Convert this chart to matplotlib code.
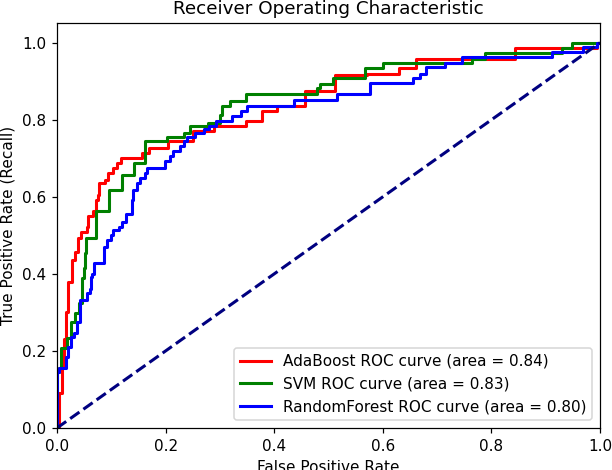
import matplotlib
matplotlib.use("Agg")
import matplotlib.pyplot as plt

# AdaBoost ROC (fpr where level starts, tpr level)
ada_fpr = [0.0, 0.003, 0.010, 0.013, 0.017, 0.021, 0.028, 0.033, 0.038, 0.045,
           0.055, 0.057, 0.067, 0.071, 0.076, 0.078, 0.088, 0.094, 0.103, 0.110,
           0.117, 0.157, 0.169, 0.205, 0.250, 0.290, 0.349, 0.377, 0.405, 0.457,
           0.512, 0.570, 0.629, 0.662, 0.843, 0.994, 1.0]
ada_tpr = [0.0, 0.090, 0.160, 0.230, 0.300, 0.380, 0.436, 0.458, 0.493, 0.510,
           0.523, 0.549, 0.562, 0.592, 0.605, 0.636, 0.644, 0.662, 0.675, 0.688,
           0.700, 0.715, 0.726, 0.744, 0.770, 0.784, 0.796, 0.822, 0.835, 0.875,
           0.917, 0.920, 0.934, 0.958, 0.986, 1.0, 1.0]

# SVM ROC
svm_fpr = [0.0, 0.0, 0.003, 0.008, 0.018, 0.025, 0.034, 0.040, 0.046, 0.049,
           0.052, 0.054, 0.071, 0.095, 0.120, 0.141, 0.162, 0.202, 0.233, 0.245,
           0.279, 0.300, 0.303, 0.319, 0.349, 0.478, 0.484, 0.509, 0.567, 0.601,
           0.764, 0.788, 0.930, 0.948, 1.0]
svm_tpr = [0.0, 0.146, 0.155, 0.207, 0.233, 0.276, 0.298, 0.324, 0.390, 0.415,
           0.454, 0.493, 0.562, 0.618, 0.657, 0.687, 0.744, 0.755, 0.767, 0.783,
           0.793, 0.813, 0.836, 0.850, 0.867, 0.882, 0.893, 0.908, 0.934, 0.947,
           0.958, 0.973, 0.986, 1.0, 1.0]

# RandomForest ROC
rf_fpr = [0.0, 0.0, 0.004, 0.016, 0.020, 0.025, 0.032, 0.036, 0.043, 0.055,
          0.060, 0.063, 0.065, 0.069, 0.086, 0.092, 0.099, 0.103, 0.114, 0.120,
          0.127, 0.138, 0.140, 0.147, 0.152, 0.162, 0.166, 0.199, 0.208, 0.214,
          0.226, 0.234, 0.239, 0.255, 0.271, 0.280, 0.292, 0.323, 0.338, 0.350,
          0.436, 0.515, 0.576, 0.656, 0.668, 0.680, 0.715, 0.745, 0.911, 0.969,
          0.994, 1.0]
rf_tpr = [0.0, 0.146, 0.155, 0.185, 0.210, 0.237, 0.246, 0.276, 0.332, 0.350,
          0.360, 0.393, 0.400, 0.428, 0.471, 0.488, 0.501, 0.514, 0.523, 0.536,
          0.555, 0.592, 0.618, 0.636, 0.649, 0.662, 0.675, 0.692, 0.705, 0.718,
          0.731, 0.744, 0.755, 0.765, 0.776, 0.785, 0.796, 0.809, 0.822, 0.837,
          0.852, 0.867, 0.895, 0.908, 0.919, 0.936, 0.947, 0.962, 0.977, 0.990,
          1.0, 1.0]

labels = ["AdaBoost ROC curve (area = 0.84)",
          "SVM ROC curve (area = 0.83)",
          "RandomForest ROC curve (area = 0.80)"]
colors = ["red", "green", "blue"]

DPI = 110
fig = plt.figure(figsize=(612 / DPI, 470 / DPI), dpi=DPI)
ax = fig.add_axes([0.0931, 0.0894, 0.8873, 0.8606])

for fx, ty, lab, c in zip([ada_fpr, svm_fpr, rf_fpr], [ada_tpr, svm_tpr, rf_tpr], labels, colors):
    ax.plot(fx, ty, color=c, lw=2, drawstyle="steps-post", label=lab)

ax.plot([0, 1], [0, 1], color="navy", lw=2, linestyle="--")
ax.set_xlim(0.0, 1.0)
ax.set_ylim(0.0, 1.05)
ax.set_xlabel("False Positive Rate")
ax.set_ylabel("True Positive Rate (Recall)")
ax.set_title("Receiver Operating Characteristic")
ax.legend(loc="lower right")

fig.savefig("out.png", dpi=DPI)
